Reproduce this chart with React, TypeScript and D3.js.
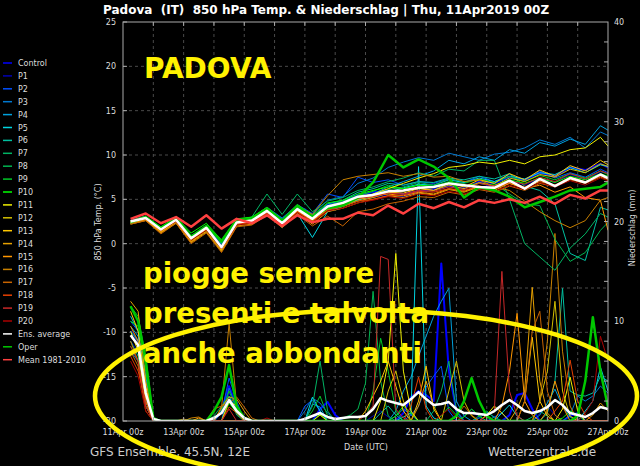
import React from 'react';
import * as d3 from 'd3';

const W = 640;
const H = 466;
const M = { left: 123, right: 608, top: 22, bottom: 421 };

const seriesNames = ['Control','P1','P2','P3','P4','P5','P6','P7','P8','P9','P10','P11','P12','P13','P14','P15','P16','P17','P18','P19','P20'];
const seriesColors = ['#0000ff','#0000b4','#0050ff','#0078d0','#00a0dc','#00d4e0','#00c0a0','#00b464','#00b450','#00c828','#00ff00','#f0f000','#d4c000','#ffc800','#e6a000','#ff9600','#c88000','#c86400','#e64000','#c82828','#aa0000'];

const dateLabels = ['11Apr 00z','13Apr 00z','15Apr 00z','17Apr 00z','19Apr 00z','21Apr 00z','23Apr 00z','25Apr 00z','27Apr 00z'];
const dateHours = [0,48,96,144,192,240,288,336,384];
const tempTicks = [25,20,15,10,5,0,-5,-10,-15,-20];
const precipTicks = [0,10,20,30,40];

// forecast hours of the temperature points
const hoursT = [6,18,30,42,54,66,78,90,102,114,126,138,150,162,174,186,198,210,222,234,246,258,270,282,294,306,318,330,342,354,366,378,384];

// 850 hPa temperature (°C)
const tControl = [2.6,3.0,1.5,2.8,0.8,2.0,0.0,2.5,2.8,3.8,2.4,4.0,3.0,4.4,4.8,5.5,5.8,6.0,5.6,5.9,6.1,6.5,6.2,7.0,6.8,7.5,7.2,8.0,7.6,8.6,8.3,9.0,8.6];
const tP1 = [2.4,2.8,1.7,2.6,0.9,1.9,0.2,2.3,2.5,3.5,2.2,3.8,2.6,4.0,4.3,5.0,5.2,5.5,5.3,5.8,6.0,6.6,6.3,6.8,6.4,7.2,6.6,7.4,6.9,7.8,7.2,8.1,7.9];
const tP2 = [2.5,3.0,1.6,2.8,0.7,1.9,-0.2,2.6,2.9,4.0,2.8,4.4,3.4,5.6,5.2,7.5,6.9,7.2,6.6,7.0,6.8,7.3,6.9,7.6,7.0,7.8,7.1,8.2,7.4,8.0,7.5,8.4,8.0];
const tP3 = [2.6,3.1,1.7,2.9,0.9,2.0,0.1,2.7,2.9,4.1,2.9,4.3,3.3,4.9,5.3,6.8,7.4,8.6,9.2,9.7,9.4,10.2,9.8,9.4,10.1,10.3,10.8,11.7,11.2,12.0,10.8,12.6,12.2];
const tP4 = [2.3,2.8,1.4,2.5,0.4,1.6,-0.6,2.2,2.4,3.4,2.1,3.6,2.5,3.9,4.3,5.0,5.6,6.4,7.0,7.6,8.2,9.4,9.0,9.8,9.4,10.6,10.2,11.4,11.0,11.8,11.2,13.3,12.8];
const tP5 = [2.4,2.9,1.5,2.6,0.5,1.7,-0.3,2.3,2.5,3.5,1.8,3.4,0.7,3.6,4.2,4.9,5.4,5.8,6.3,6.7,6.6,7.2,6.9,7.4,7.0,7.6,7.3,8.0,7.8,8.6,8.0,8.9,8.7];
const tP6 = [2.5,3.0,1.6,2.7,0.7,1.8,-0.3,2.5,2.6,3.8,2.4,4.0,3.0,4.5,4.9,5.8,6.2,6.8,6.6,7.0,6.9,7.4,7.2,7.6,7.3,7.9,6.5,6.0,4.5,-1.1,-1.9,4.1,3.8];
const tP7 = [2.3,2.9,1.5,2.8,0.6,2.0,0.0,2.6,3.0,5.6,3.3,5.6,3.6,4.8,5.2,6.0,6.4,7.0,7.4,8.0,7.6,8.4,8.2,9.4,9.4,5.0,0.0,-1.5,-3.0,-0.5,1.1,3.4,3.0];
const tP8 = [2.5,2.9,1.6,2.6,0.7,1.7,-0.2,2.4,2.6,3.6,2.3,3.9,2.7,4.1,4.6,5.2,5.6,6.1,6.4,6.9,6.6,7.3,7.0,7.2,6.8,5.6,4.5,4.3,0.5,-2.0,-1.0,1.5,2.4];
const tP9 = [2.4,2.8,1.6,2.7,0.8,2.1,0.1,2.8,2.9,4.0,2.6,4.1,3.1,4.3,4.8,5.4,5.9,6.6,6.2,6.6,6.5,7.0,6.8,7.3,6.9,7.6,7.0,7.7,7.2,7.9,7.4,8.2,7.8];
const tP10 = [2.6,3.1,1.9,3.0,1.2,2.3,0.4,2.8,3.0,4.1,2.7,4.4,3.2,4.6,4.9,5.6,6.0,6.4,6.2,6.6,6.4,6.9,6.5,6.8,6.6,7.2,6.8,7.4,6.9,7.6,7.2,7.9,7.6];
const tP11 = [2.5,2.9,1.4,2.6,0.4,1.6,-0.5,2.3,2.5,3.6,2.2,3.8,2.7,4.1,4.5,5.2,5.6,6.2,6.8,7.4,7.9,8.6,8.8,9.2,9.0,9.4,9.0,9.8,10.0,10.6,10.8,12.0,11.0];
const tP12 = [2.3,2.7,1.3,2.4,0.2,1.4,-0.8,2.1,2.3,3.4,2.0,3.5,2.4,3.8,4.2,4.8,5.2,5.7,5.9,6.3,6.0,6.6,6.2,6.9,6.5,7.4,7.0,7.8,7.5,8.4,8.0,9.0,8.7];
const tP13 = [2.4,2.8,1.3,2.5,0.3,1.5,-0.7,2.2,2.4,3.5,2.1,3.7,2.6,3.9,4.3,5.0,5.3,5.8,5.7,6.2,6.0,6.8,6.4,7.2,6.8,7.9,7.2,8.3,7.6,8.8,8.2,9.4,8.9];
const tP14 = [2.2,2.6,1.2,2.3,0.1,1.3,-0.9,2.0,2.2,3.3,1.9,3.4,2.2,3.6,4.0,4.6,5.0,5.4,5.2,5.7,5.5,6.1,5.8,6.4,6.0,6.8,6.3,7.0,6.6,7.5,7.0,7.8,7.4];
const tP15 = [2.3,2.7,1.3,2.5,0.2,1.6,-0.6,2.2,2.4,3.4,2.0,3.6,2.5,3.9,4.4,5.1,5.4,5.6,5.4,5.8,5.6,6.2,5.9,6.5,6.2,6.8,6.2,6.6,5.8,6.4,5.2,4.9,1.5];
const tP16 = [2.4,2.8,1.4,2.6,0.3,1.7,-0.5,2.4,2.7,3.9,2.6,4.2,3.3,5.4,7.2,7.6,7.8,8.0,7.6,7.9,7.5,7.6,7.0,7.2,6.4,6.0,4.8,3.6,2.6,1.8,2.6,4.9,5.2];
const tP17 = [2.2,2.6,1.1,2.3,0.0,1.2,-1.0,1.9,2.1,3.2,1.8,3.3,2.0,3.1,2.0,3.6,3.9,4.5,4.8,5.3,5.2,5.8,5.5,6.1,5.8,6.5,6.0,6.8,6.4,7.2,6.8,7.5,7.2];
const tP18 = [2.5,2.9,1.5,2.6,0.5,1.7,-0.4,2.2,2.4,3.4,2.1,3.6,2.5,3.8,4.2,4.8,5.0,5.4,5.5,5.9,5.8,6.2,6.0,6.5,6.2,6.9,6.4,7.1,6.6,7.3,6.8,7.6,7.3];
const tP19 = [2.6,3.0,1.6,2.7,0.6,1.8,-0.3,2.3,2.5,3.5,2.2,3.8,2.7,4.0,4.4,5.1,5.3,5.7,5.6,6.0,5.9,6.4,6.1,6.8,6.5,7.1,6.7,7.5,7.0,7.9,7.3,8.2,7.9];
const tP20 = [2.5,2.8,1.5,2.5,0.4,1.5,-0.6,2.1,2.3,3.3,2.0,3.5,2.4,3.7,4.0,4.6,4.9,5.3,5.1,5.6,5.4,5.9,5.6,6.2,5.9,6.6,6.1,6.9,6.4,7.1,6.6,7.4,7.1];
const tAverage = [2.5,2.9,1.6,2.7,0.6,1.8,-0.4,2.4,2.6,3.7,2.3,3.9,2.8,4.2,4.6,5.3,5.5,5.9,6.0,6.3,6.4,6.8,6.6,6.4,6.3,7.1,6.2,7.3,6.5,7.4,6.9,7.8,7.4];
const tOper = [2.4,3.0,1.7,2.9,0.8,2.0,0.3,2.7,2.8,4.0,2.6,4.3,3.0,4.0,4.3,5.2,6.9,10.0,8.6,9.5,8.7,7.4,5.2,6.4,6.0,5.3,4.1,4.7,5.3,6.0,6.2,6.4,6.9];
const tMean = [2.8,3.4,2.3,3.0,1.9,3.2,1.7,2.8,2.3,3.2,2.0,3.2,2.4,2.8,2.8,3.5,3.2,4.3,3.4,4.5,4.0,4.7,4.1,4.9,4.6,5.0,4.6,5.3,4.5,5.5,5.1,6.0,6.0];

// precipitation (mm), [forecast hour, amount]; hours not listed are dry
const pControl = [[6,9],[12,8],[18,3],[24,0.2],[78,1],[84,3.5],[90,1.5],[156,1.2],[162,1.9],[168,0.6],[222,0.8],[228,2.4],[234,3],[240,2.6],[246,2],[252,15.8],[258,5],[264,1],[306,0.6],[312,2.6],[318,2.8],[324,1.2],[354,0.5],[360,0.8]];
const pP1 = [[6,8],[12,7],[18,2],[24,0.1],[84,2.8],[90,1],[198,0.5],[204,1],[210,0.4],[270,0.5],[276,1.2],[282,0.3],[330,0.8],[336,1.5],[342,0.6]];
const pP2 = [[6,10],[12,9],[18,4],[24,0.3],[78,0.8],[84,4.3],[90,2],[144,1.5],[150,2.1],[156,1],[228,0.6],[234,1.5],[240,3.4],[246,4.5],[252,5.5],[258,1],[294,0.4],[300,0.8]];
const pP3 = [[6,7],[12,6],[18,2],[84,3.3],[90,1.2],[144,1],[150,2.3],[156,1.8],[162,0.8],[216,0.5],[222,1.2],[228,0.6],[282,0.3],[288,0.9],[294,0.4],[354,0.6],[360,2.5],[366,2],[372,2.5],[378,3.5],[384,2.8]];
const pP4 = [[6,9.5],[12,8.5],[18,4.5],[24,0.2],[78,1.2],[84,2.5],[90,1],[150,1.7],[156,1.4],[216,1],[222,3],[228,4.4],[234,6.5],[240,8.5],[246,10.5],[252,12],[258,13.3],[264,2],[270,0.5],[330,0.6],[336,1.8],[342,3.2],[348,1.5],[354,0.4]];
const pP5 = [[6,10.5],[12,9],[18,3],[24,0.1],[84,2],[90,0.8],[150,2.4],[156,1],[222,0.4],[228,0.8],[234,25.5],[240,1.5],[246,0.3],[300,0.8],[306,1.6],[312,0.5],[366,1],[372,2],[378,5.4],[384,3]];
const pP6 = [[6,8],[12,6.5],[18,1.5],[204,0.8],[210,1.5],[216,0.6],[336,0.8],[342,4],[348,13.3],[354,3],[360,2.6],[366,2.5],[372,2.8],[378,4.5],[384,4]];
const pP7 = [[6,9],[12,8],[18,5],[24,0.3],[72,0.5],[78,1.5],[84,2.5],[90,0.6],[150,1.5],[156,6],[162,1],[246,1],[252,3],[258,6],[264,1],[324,0.4],[330,1],[336,0.5]];
const pP8 = [[6,7.5],[12,6],[18,2.5],[24,0.1],[174,0.3],[180,0.6],[186,1.2],[192,3.8],[198,13],[204,4],[210,0.5],[282,0.5],[288,1],[294,0.3]];
const pP9 = [[6,11.5],[12,10.5],[18,6.5],[24,0.4],[78,1],[84,3],[90,1.2],[150,1],[156,2.5],[162,0.5],[198,3],[204,8.3],[210,5],[216,1],[252,0.5],[258,1.4],[264,0.6]];
const pP10 = [[6,10],[12,9.5],[18,5.5],[24,0.2],[84,1.8],[90,0.8],[156,0.7],[216,0.5],[222,1.5],[228,0.8],[270,0.4],[276,1.2],[282,0.5],[348,0.3],[354,1],[360,0.6]];
const pP11 = [[6,9],[12,7],[18,2],[156,0.6],[204,2],[210,6],[216,16.8],[222,5],[228,1],[288,0.6],[294,1.5],[300,0.8],[348,1.2],[354,4.4],[360,1]];
const pP12 = [[6,8.5],[12,7.5],[18,3],[24,0.1],[210,3],[216,5],[222,2],[258,3],[264,6],[270,2],[276,0.5],[330,2],[336,5],[342,12],[348,3],[354,0.5]];
const pP13 = [[6,11],[12,9],[18,3.5],[24,0.2],[84,2],[90,1.5],[192,1],[198,2.5],[204,4],[210,6],[216,3.5],[222,1],[234,2],[240,5.5],[246,1.2],[318,2],[324,8.4],[330,2],[336,0.5]];
const pP14 = [[6,12],[12,11],[18,4],[24,0.3],[78,1.4],[84,2.4],[90,2.2],[96,1],[234,1.5],[240,4],[246,1.5],[312,1.2],[318,3],[324,13.4],[330,4],[336,0.8],[372,0.6],[378,1.8],[384,1]];
const pP15 = [[6,9.5],[12,8],[18,2.5],[24,0.1],[60,0.3],[300,1.5],[306,5],[312,10.8],[318,2],[324,0.6],[336,1],[342,4],[348,1.5]];
const pP16 = [[6,8],[12,6],[18,1.5],[54,0.3],[60,0.4],[78,1.3],[84,9.8],[90,1.5],[96,0.3],[330,2],[336,8],[342,18.8],[348,7],[354,1.5]];
const pP17 = [[6,7],[12,5.5],[18,1],[48,0.2],[72,1.2],[78,1.5],[84,1.8],[90,2.4],[96,1.4],[102,0.3],[264,0.5],[270,1.5],[276,0.6],[318,2],[324,9],[330,11],[336,3],[342,0.6]];
const pP18 = [[6,6.5],[12,5],[18,2],[24,0.1],[84,1.4],[90,0.8],[228,1.5],[234,4.4],[240,1.2],[342,1],[348,2],[354,6.1],[360,2],[366,0.6]];
const pP19 = [[6,7.5],[12,6],[18,1.5],[84,1.2],[192,0.6],[198,1.5],[204,16.5],[210,16.2],[216,1.2],[222,0.3],[288,0.5],[294,1],[300,15],[306,3],[312,0.5]];
const pP20 = [[6,6],[12,4.5],[18,1],[114,0.3],[252,0.6],[258,1.2],[264,0.4],[366,0.8],[372,2],[378,8.5],[384,6]];
const pOper = [[6,11.5],[12,10],[18,6],[24,0.2],[72,1],[78,2.4],[84,5.6],[90,1.5],[96,0.3],[264,0.5],[270,2],[276,4.3],[282,2],[288,0.5],[360,0.5],[366,4],[372,10.4],[378,5],[384,1.4]];
const pAverage = [[6,8.6],[12,7.6],[18,2.8],[24,0.2],[72,0.3],[78,0.8],[84,2.1],[90,1],[96,0.3],[144,0.2],[150,0.5],[156,0.8],[162,0.4],[168,0.2],[174,0.3],[180,0.4],[186,0.4],[192,0.5],[198,1.2],[204,2.3],[210,2.0],[216,1.8],[222,1.6],[228,2.2],[234,2.9],[240,2.2],[246,1.6],[252,1.7],[258,1.9],[264,1.2],[270,0.8],[276,0.8],[282,0.7],[288,0.6],[294,1.0],[300,1.6],[306,2.1],[312,1.6],[318,1.0],[324,0.8],[330,1.0],[336,1.4],[342,2.1],[348,1.6],[354,0.8],[360,0.6],[366,0.4],[372,0.8],[378,1.4],[384,1.2]];

const memberTemps = [tControl,tP1,tP2,tP3,tP4,tP5,tP6,tP7,tP8,tP9,tP10,tP11,tP12,tP13,tP14,tP15,tP16,tP17,tP18,tP19,tP20];
const memberPrecip = [pControl,pP1,pP2,pP3,pP4,pP5,pP6,pP7,pP8,pP9,pP10,pP11,pP12,pP13,pP14,pP15,pP16,pP17,pP18,pP19,pP20];

const titleText = 'Padova  (IT)  850 hPa Temp. & Niederschlag | Thu, 11Apr2019 00Z';
const annotationLines = ['piogge sempre', 'presenti e talvolta', 'anche abbondanti'];

const FONT = 'DejaVu Sans, sans-serif';
const YELLOW = '#fff200';

export default function App() {
  const x = d3.scaleLinear().domain([0, 384]).range([M.left, M.right]);
  const yT = d3.scaleLinear().domain([-20, 25]).range([M.bottom, M.top]);
  const yP = d3.scaleLinear().domain([0, 40]).range([M.bottom, M.top]);
  const precipHours = d3.range(6, 385, 6);

  const tLine = d3.line<number>().x((_, i) => x(hoursT[i])).y((d) => yT(d));
  const pLine = d3.line<[number, number]>().x((d) => x(d[0])).y((d) => yP(d[1]));
  const expand = (sparse: number[][]): [number, number][] => {
    const m = new Map(sparse.map((d) => [d[0], d[1]] as [number, number]));
    return precipHours.map((h) => [h, m.get(h) ?? 0]);
  };

  const legendItems = [
    ...seriesNames.map((n, i) => ({ name: n, color: seriesColors[i] })),
    { name: 'Ens. average', color: '#ffffff' },
    { name: 'Oper', color: '#00c800' },
    { name: 'Mean 1981-2010', color: '#ff4040' },
  ];

  const dayHours = d3.range(24, 384, 24);
  const gridT = d3.range(-15, 25, 5);
  const minorP = d3.range(2, 40, 2);

  return (
    <svg width={W} height={H} style={{ position: 'absolute', left: 0, top: 0, background: '#000' }}>
      <rect x={0} y={0} width={W} height={H} fill="#000" />
      <defs>
        <clipPath id="plotClip">
          <rect x={M.left} y={M.top} width={M.right - M.left} height={M.bottom - M.top} />
        </clipPath>
      </defs>

      {/* grid */}
      <g stroke="#4a4a4a" strokeWidth={1} strokeDasharray="3,3">
        {dayHours.map((h) => (
          <line key={'gv' + h} x1={x(h)} x2={x(h)} y1={M.top} y2={M.bottom} />
        ))}
        {gridT.map((t) => (
          <line key={'gh' + t} x1={M.left} x2={M.right} y1={yT(t)} y2={yT(t)} />
        ))}
      </g>

      {/* data */}
      <g clipPath="url(#plotClip)" fill="none" strokeLinejoin="round">
        {memberPrecip.map((s, i) => (
          <path key={'pm' + i} d={pLine(expand(s)) || ''} stroke={seriesColors[i]} strokeWidth={i === 0 ? 2 : 1} />
        ))}
        <path d={pLine(expand(pOper)) || ''} stroke="#00c800" strokeWidth={2.5} />
        <path d={pLine(expand(pAverage)) || ''} stroke="#ffffff" strokeWidth={2.5} />
        {memberTemps.map((s, i) => (
          <path key={'tm' + i} d={tLine(s) || ''} stroke={seriesColors[i]} strokeWidth={i === 0 ? 2 : 1} />
        ))}
        <path d={tLine(tOper) || ''} stroke="#00c800" strokeWidth={2.5} />
        <path d={tLine(tAverage) || ''} stroke="#ffffff" strokeWidth={2.5} />
        <path d={tLine(tMean) || ''} stroke="#ff4040" strokeWidth={2.5} />
      </g>

      {/* frame and ticks */}
      <rect x={M.left} y={M.top} width={M.right - M.left} height={M.bottom - M.top} fill="none" stroke="#aaaaaa" strokeWidth={1} />
      <g stroke="#aaaaaa" strokeWidth={1}>
        {dayHours.map((h) => (
          <g key={'tk' + h}>
            <line x1={x(h)} x2={x(h)} y1={M.top} y2={M.top + 4} />
            <line x1={x(h)} x2={x(h)} y1={M.bottom} y2={M.bottom - 4} />
          </g>
        ))}
        {tempTicks.map((t) => (
          <line key={'lt' + t} x1={M.left} x2={M.left + 4} y1={yT(t)} y2={yT(t)} />
        ))}
        {minorP.map((p) => (
          <line key={'rt' + p} x1={M.right} x2={M.right - 4} y1={yP(p)} y2={yP(p)} />
        ))}
      </g>

      {/* axis labels */}
      <g fontFamily={FONT} fontSize={8} fill="#dddddd">
        {tempTicks.map((t) => (
          <text key={'ll' + t} x={116} y={yT(t) + 3} textAnchor="end">{t}</text>
        ))}
        {precipTicks.map((p) => (
          <text key={'rl' + p} x={614} y={yP(p) + 3} textAnchor="start">{p}</text>
        ))}
        {dateHours.map((h, i) => (
          <text key={'dl' + h} x={x(h)} y={435} textAnchor="middle">{dateLabels[i]}</text>
        ))}
        <text x={366} y={450} textAnchor="middle">Date (UTC)</text>
        <text transform="translate(101,222) rotate(-90)" textAnchor="middle">850 hPa Temp. (°C)</text>
        <text transform="translate(635,228) rotate(-90)" textAnchor="middle">Niederschlag (mm)</text>
      </g>

      {/* legend */}
      <g fontFamily={FONT} fontSize={8} fill="#dddddd">
        {legendItems.map((it, i) => {
          const cy = 63 + i * 12.9;
          return (
            <g key={'lg' + i}>
              <line x1={3} x2={12} y1={cy} y2={cy} stroke={it.color} strokeWidth={1.5} />
              <text x={18} y={cy + 3}>{it.name}</text>
            </g>
          );
        })}
      </g>

      {/* title and footer */}
      <text x={103} y={14} fontFamily={FONT} fontSize={12} fontWeight="bold" fill="#ffffff" style={{ whiteSpace: 'pre' }}>
        {titleText}
      </text>
      <text x={90} y={456} fontFamily={FONT} fontSize={12} fill="#cccccc">GFS Ensemble, 45.5N, 12E</text>
      <text x={488} y={456} fontFamily={FONT} fontSize={12} fill="#cccccc">Wetterzentrale.de</text>

      {/* annotations */}
      <text x={144} y={78} fontFamily={FONT} fontSize={28} fontWeight="bold" fill={YELLOW}>PADOVA</text>
      {annotationLines.map((s, i) => (
        <text key={'an' + i} x={143} y={283 + i * 40} fontFamily={FONT} fontSize={27.5} fontWeight="bold" fill={YELLOW}>{s}</text>
      ))}
      <ellipse cx={366} cy={396} rx={271} ry={86} fill="none" stroke={YELLOW} strokeWidth={4.5} />
    </svg>
  );
}
